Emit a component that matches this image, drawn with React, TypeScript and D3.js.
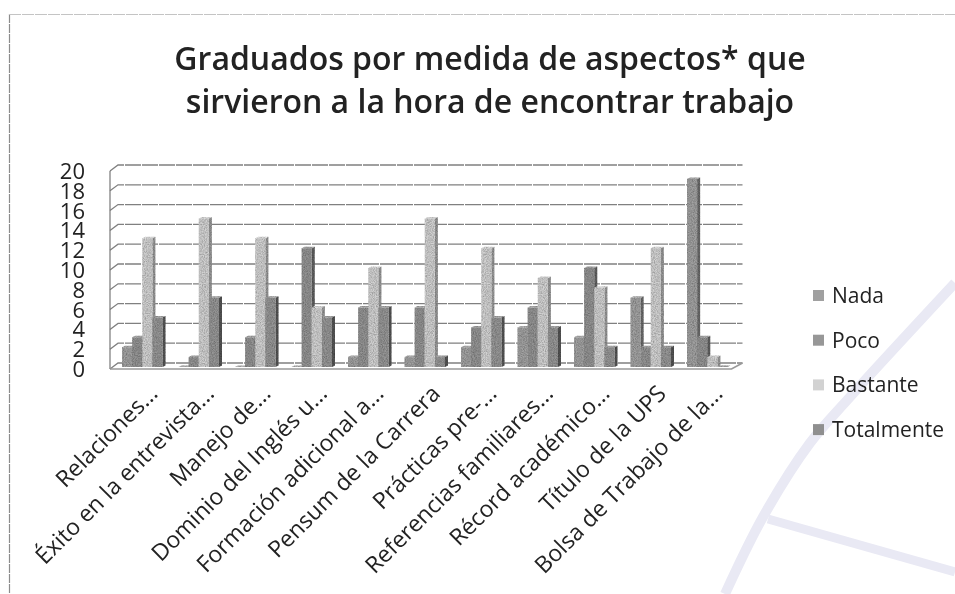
import React from "react";
import * as d3 from "d3";

const categories = ["Relaciones...", "Éxito en la entrevista...", "Manejo de...", "Dominio del Inglés u...", "Formación adicional a...", "Pensum de la Carrera", "Prácticas pre-...", "Referencias familiares...", "Récord académico...", "Título de la UPS", "Bolsa de Trabajo de la..."];
const seriesNames = ["Nada", "Poco", "Bastante", "Totalmente"];
const nada = [2, 0, 0, 0, 1, 1, 2, 4, 3, 7, 19];
const poco = [3, 1, 3, 12, 6, 6, 4, 6, 10, 2, 3];
const bastante = [13, 15, 13, 6, 10, 15, 12, 9, 8, 12, 1];
const totalmente = [5, 7, 7, 5, 6, 1, 5, 4, 2, 2, 0];
const allSeries = [nada, poco, bastante, totalmente];
const colors = ["#a2a2a2", "#949494", "#d2d2d2", "#979797"];
const sideColors = ["#6c6c6c", "#626262", "#999999", "#565656"];
const topColors = ["#b4b4b4", "#a8a8a8", "#dedede", "#a8a8a8"];
const legendColors = ["#a0a0a0", "#979797", "#d2d2d2", "#8f8f8f"];
const yTicks = d3.range(0, 21, 2);
const titleLines = ["Graduados por medida de aspectos* que", "sirvieron a la hora de encontrar trabajo"];

const FONT = "'Open Sans', 'Noto Sans', sans-serif";
const DX = 8, DY = 6; // floor depth
const BAR_D = 3;

export default function App() {
  const y = d3.scaleLinear().domain([0, 20]).range([369, 171]);
  const x = d3.scaleBand<number>().domain(d3.range(categories.length)).range([110, 731.5]).paddingInner(0).paddingOuter(0);
  const inner = d3.scaleBand<number>().domain([0, 1, 2, 3]).range([12, 52.5]);
  const gridLen = x.range()[1];
  const bgCurve = d3.line().curve(d3.curveCatmullRom)([[955, 283], [850, 397], [810, 443], [763, 517], [725, 594]]) as string;
  return (
    <svg width={955} height={594} style={{ position: "absolute", left: 0, top: 0, background: "#fff" }}>
      <defs>
        <filter id="grain" x="-5%" y="-5%" width="110%" height="110%">
          <feTurbulence type="fractalNoise" baseFrequency="0.9" numOctaves="2" seed="4" result="n" />
          <feColorMatrix in="n" type="matrix" values="0 0 0 0 0  0 0 0 0 0  0 0 0 0 0  0.9 0 0 0 -0.25" result="d" />
          <feComposite in="d" in2="SourceAlpha" operator="in" result="dd" />
          <feMerge><feMergeNode in="SourceGraphic" /><feMergeNode in="dd" /></feMerge>
          <feGaussianBlur stdDeviation="0.45" />
        </filter>
        <filter id="soft"><feGaussianBlur stdDeviation="0.35" /></filter>
      </defs>

      <g fill="none" stroke="#e9e9f4" strokeWidth={10}>
        <path d={bgCurve} />
        <path d="M768 519 L955 572" strokeWidth={9} />
      </g>

      <path d="M9.5 14 V594" stroke="#8c8c8c" strokeWidth={1.2} strokeDasharray="9 1" fill="none" />
      <path d="M9 14.5 H955" stroke="#c4c4c4" strokeWidth={1} strokeDasharray="12 1" fill="none" />

      <g fontFamily={FONT} fontSize={32} fontWeight={600} fill="#222" textAnchor="middle" filter="url(#soft)">
        {titleLines.map((t, i) => (
          <text key={i} x={490} y={70 + i * 43}>{t}</text>
        ))}
      </g>

      <g filter="url(#soft)">
        {yTicks.map((t) => (
          <path key={t} d={`M${110} ${y(t)} L${110 + DX} ${y(t) - DY} H${gridLen + DX + 3}`} fill="none" stroke="#808080" strokeWidth={1.3} strokeDasharray="16 1" />
        ))}
        <path d={`M110 ${y(0)} V${y(20)}`} stroke="#777" strokeWidth={1.2} fill="none" />
        <path d={`M110 ${y(0)} H${gridLen} L${gridLen + DX + 3} ${y(0) - DY}`} stroke="#999" strokeWidth={1.6} fill="none" />
      </g>

      <g fontFamily={FONT} fontSize={22} fill="#222" textAnchor="end" filter="url(#soft)">
        {yTicks.map((t) => (
          <text key={t} x={85} y={y(t) + 8}>{t}</text>
        ))}
      </g>

      <g filter="url(#grain)">
        {categories.map((_, c) =>
          allSeries.map((vals, s) => {
            const left = (x(c) as number) + (inner(s) as number);
            const w = inner.bandwidth();
            const base = y(0) - 2;
            const top = y(vals[c]) - 2;
            const h = base - top;
            return (
              <g key={`${c}-${s}`}>
                <polygon points={`${left + w},${top} ${left + w + BAR_D},${top - 1.5} ${left + w + BAR_D},${base - 1.5} ${left + w},${base}`} fill={sideColors[s]} />
                <polygon points={`${left},${top} ${left + BAR_D},${top - 1.5} ${left + w + BAR_D},${top - 1.5} ${left + w},${top}`} fill={topColors[s]} />
                <rect x={left} y={top} width={w} height={Math.max(h, 0)} fill={colors[s]} />
              </g>
            );
          })
        )}
      </g>

      <g fontFamily={FONT} fontSize={23} fill="#222" textAnchor="end" filter="url(#soft)">
        {categories.map((c, i) => {
          const px = (x(i) as number) + 49;
          return (
            <text key={c} transform={`translate(${px},${395}) rotate(-45)`}>{c}</text>
          );
        })}
      </g>

      <g fontFamily={FONT} fontSize={21} fill="#222" filter="url(#soft)">
        {seriesNames.map((n, i) => (
          <g key={n} transform={`translate(0,${296 + i * 44.7})`}>
            <rect x={813} y={-6} width={11} height={11} fill={legendColors[i]} />
            <text x={832} y={7}>{n}</text>
          </g>
        ))}
      </g>
    </svg>
  );
}
